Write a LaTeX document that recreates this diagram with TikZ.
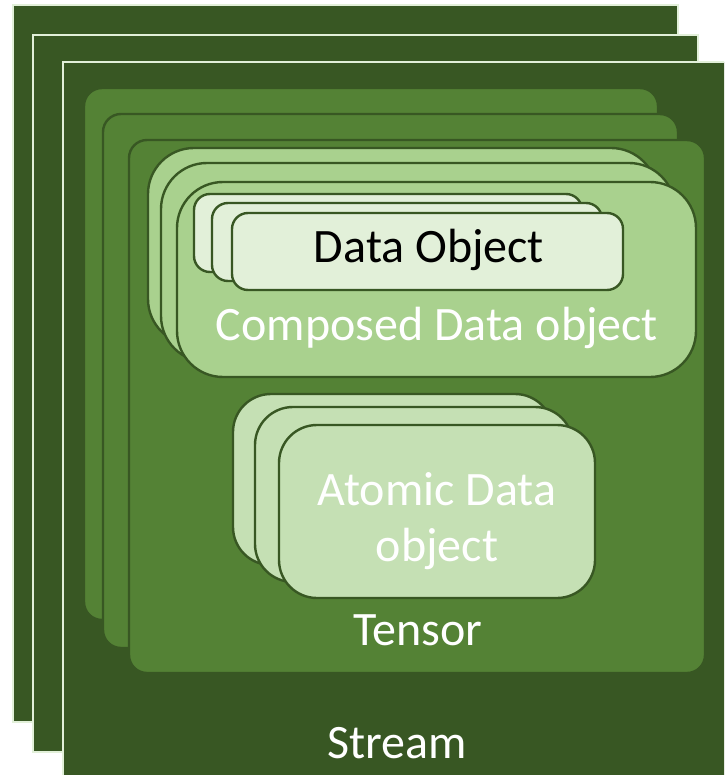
\documentclass[tikz,border=0pt]{standalone}
\usepackage{fontspec}
\setmainfont{Carlito}
\usepackage{tikz}

\definecolor{streamgreen}{HTML}{385723}
\definecolor{tensorgreen}{HTML}{548235}
\definecolor{composedgreen}{HTML}{A9D18E}
\definecolor{atomicgreen}{HTML}{C5E0B4}
\definecolor{objectgreen}{HTML}{E2F0D9}

\begin{document}
\begin{tikzpicture}
    %[x=1pt,y=-1pt]
    [x=1pt,y=-1pt,
     streambox/.style={fill=streamgreen,draw=objectgreen,line width=2pt},
     tensorbox/.style={fill=tensorgreen,draw=streamgreen,line width=2.4pt,rounded corners=18pt},
     composedbox/.style={fill=composedgreen,draw=streamgreen,line width=2.4pt,rounded corners=46pt},
     objectbox/.style={fill=objectgreen,draw=streamgreen,line width=2.4pt,rounded corners=16pt},
     atomicbox/.style={fill=atomicgreen,draw=streamgreen,line width=2.4pt,rounded corners=38pt},
     boxlabel/.style={font=\fontsize{48}{56}\selectfont,text=white,anchor=base,inner sep=0pt,align=center}]
    \useasboundingbox (0,0) rectangle (724,775);
    \clip (0,0) rectangle (724,775);

    % stream
    \draw[streambox] (13,5) rectangle (678,722);
    \draw[streambox] (33,35) rectangle (698,752);
    \draw[streambox] (63,62) rectangle (740,790);

    % tensor
    \draw[tensorbox] (84,88) rectangle (658,620);
    \draw[tensorbox] (103,114) rectangle (678,648);
    \draw[tensorbox] (129,140) rectangle (705,673);

    % composed data object
    \draw[composedbox] (148,148) rectangle (657,345);
    \draw[composedbox] (161,163) rectangle (675,362);
    \draw[composedbox] (177,182) rectangle (696,377);

    % data object
    \draw[objectbox] (194,194) rectangle (582,272);
    \draw[objectbox] (212,203) rectangle (602,281);
    \draw[objectbox] (232,213) rectangle (623,290);

    % atomic data object
    \draw[atomicbox] (233,394) rectangle (553,565);
    \draw[atomicbox] (255,407) rectangle (573,582);
    \draw[atomicbox] (279,425) rectangle (595,598);

    \node[boxlabel,text=black] (ldata) at (429,262) {Data Object};
    \node[boxlabel] (lcomposed) at (437,340) {Composed Data object};
    \node[boxlabel] (latomic) at (437,561) {Atomic Data\\object};
    \node[boxlabel] (ltensor) at (418,645) {Tensor};
    \node[boxlabel] (lstream) at (397,758) {Stream};

  \end{tikzpicture}
\end{document}
